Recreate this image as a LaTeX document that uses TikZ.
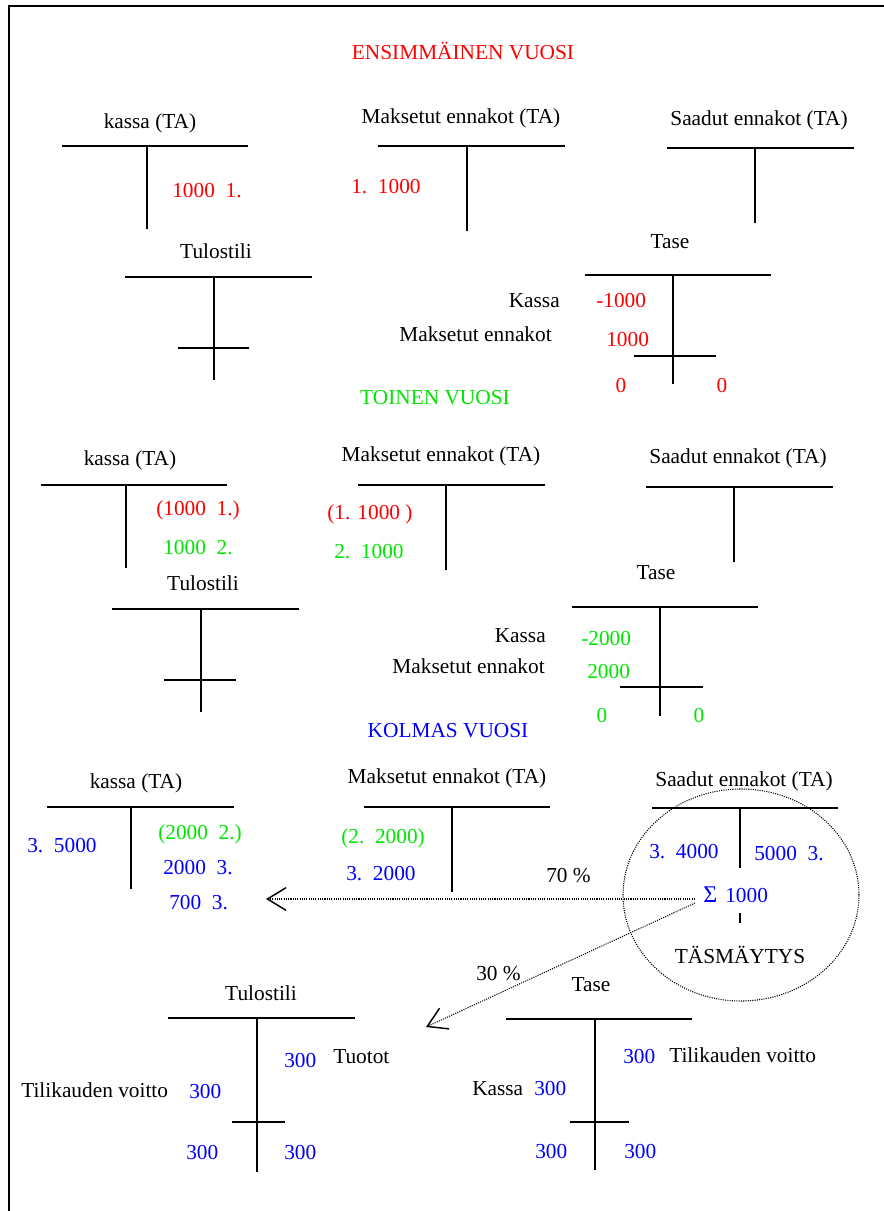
\documentclass[tikz,border=0pt]{standalone}
\usepackage{fontspec}
\setmainfont{Liberation Serif}
\usetikzlibrary{arrows.meta}
\definecolor{yrRed}{RGB}{255,0,0}
\definecolor{yrGreen}{RGB}{0,230,0}
\definecolor{yrBlue}{RGB}{0,0,255}
\begin{document}
\begin{tikzpicture}[x=0.75pt,y=-0.75pt,
  txt/.style={font=\fontsize{16}{19}\selectfont, inner sep=0pt},
  lc/.style={txt, anchor=base},
  lw/.style={txt, anchor=base west},
  le/.style={txt, anchor=base east},
  hbar/.style={line width=1.5pt},
  vbar/.style={line width=1.1pt},
  dotline/.style={line width=0.8pt, dash pattern=on 0.8pt off 0.9pt},
  barb/.style={-{Straight Barb[length=14pt,width=17pt,line width=1.1pt]}}
]
\useasboundingbox (0,0) rectangle (884,1211);
% page frame (top and left edge)
\draw[line width=1.5pt] (9,1211) -- (9,6) -- (884,6);

% ---------------- first year ----------------
\node[lc,yrRed] (title1) at (463,59) {ENSIMMÄINEN VUOSI};
\node[lc] (kassa1) at (150,128) {kassa (TA)};
\node[lc] (maks1) at (461,123) {Maksetut ennakot (TA)};
\node[lc] (saad1) at (759,125) {Saadut ennakot (TA)};
\draw[hbar] (62,146) -- (248,146);  \draw[vbar] (147,146) -- (147,229);
\draw[hbar] (378,146) -- (565,146); \draw[vbar] (467,146) -- (467,231);
\draw[hbar] (667,148) -- (854,148); \draw[vbar] (755,148) -- (755,223);
\node[lw,yrRed] (kassa1cr) at (172,197) {1000\enspace 1.};
\node[lw,yrRed] (maks1dr) at (351,193) {1.\enspace 1000};

\node[lc] (tulos1) at (216,258) {Tulostili};
\draw[hbar] (125,277) -- (312,277); \draw[vbar] (214,277) -- (214,380);
\draw[hbar] (178,348) -- (249,348);

\node[lc] (tase1) at (670,248) {Tase};
\draw[hbar] (585,275) -- (771,275); \draw[vbar] (673,275) -- (673,384);
\draw[hbar] (634,356) -- (716,356);
\node[le] (tase1k) at (560,307) {Kassa};
\node[lw,yrRed] (tase1kv) at (596,307) {-1000};
\node[le] (tase1m) at (552,341) {Maksetut ennakot};
\node[lw,yrRed] (tase1mv) at (606,346) {1000};
\node[lc,yrRed] (tase1l) at (621,392) {0};
\node[lc,yrRed] (tase1r) at (722,392) {0};

% ---------------- second year ----------------
\node[lc,yrGreen] (title2) at (435,404) {TOINEN VUOSI};
\node[lc] (kassa2) at (130,465) {kassa (TA)};
\node[lc] (maks2) at (441,461) {Maksetut ennakot (TA)};
\node[lc] (saad2) at (738,463) {Saadut ennakot (TA)};
\draw[hbar] (41,485) -- (227,485);  \draw[vbar] (126,485) -- (126,568);
\draw[hbar] (358,485) -- (545,485); \draw[vbar] (446,485) -- (446,570);
\draw[hbar] (646,487) -- (833,487); \draw[vbar] (734,487) -- (734,562);
\node[lw,yrRed] (kassa2a) at (156,515) {(1000\enspace 1.)};
\node[lw,yrGreen] (kassa2b) at (163,554) {1000\enspace 2.};
\node[lw,yrRed] (maks2a) at (327,519) {(1. 1000 )};
\node[lw,yrGreen] (maks2b) at (334,558) {2.\enspace 1000};

\node[lc] (tulos2) at (203,590) {Tulostili};
\draw[hbar] (112,609) -- (299,609); \draw[vbar] (201,609) -- (201,712);
\draw[hbar] (164,680) -- (236,680);

\node[lc] (tase2) at (656,579) {Tase};
\draw[hbar] (572,607) -- (758,607); \draw[vbar] (660,607) -- (660,716);
\draw[hbar] (620,687) -- (703,687);
\node[le] (tase2k) at (546,642) {Kassa};
\node[lw,yrGreen] (tase2kv) at (581,645) {-2000};
\node[le] (tase2m) at (545,673) {Maksetut ennakot};
\node[lw,yrGreen] (tase2mv) at (587,678) {2000};
\node[lc,yrGreen] (tase2l) at (602,722) {0};
\node[lc,yrGreen] (tase2r) at (699,722) {0};

% ---------------- third year ----------------
\node[lc,yrBlue] (title3) at (448,737) {KOLMAS VUOSI};
\node[lc] (kassa3) at (136,788) {kassa (TA)};
\node[lc] (maks3) at (447,783) {Maksetut ennakot (TA)};
\node[lc] (saad3) at (744,786) {Saadut ennakot (TA)};
\draw[hbar] (47,807) -- (234,807);  \draw[vbar] (131,807) -- (131,889);
\draw[hbar] (364,807) -- (550,807); \draw[vbar] (452,807) -- (452,892);
\draw[hbar] (652,808) -- (838,808); \draw[vbar] (740,808) -- (740,868);
\node[lw,yrBlue] (kassa3dr) at (27,852) {3.\enspace 5000};
\node[lw,yrGreen] (kassa3a) at (158,839) {(2000\enspace 2.)};
\node[lw,yrBlue] (kassa3b) at (163,874) {2000\enspace 3.};
\node[lw,yrBlue] (kassa3c) at (169,909) {700\enspace 3.};
\node[lw,yrGreen] (maks3a) at (341,843) {(2.\enspace 2000)};
\node[lw,yrBlue] (maks3b) at (346,880) {3.\enspace 2000};
\node[lw] (pct70) at (546,882) {70 \%};
\node[lw,yrBlue] (saad3dr) at (649,858) {3.\enspace 4000};
\node[lw,yrBlue] (saad3cr) at (754,860) {5000\enspace 3.};
\node[txt,anchor=base west,yrBlue,font=\fontsize{18}{20}\selectfont] (sigma) at (703,902) {Σ};
\node[lw,yrBlue] (sumval) at (725,902) {1000};
\draw[vbar] (740,913) -- (740,923);
\node[lc] (tasm) at (740,963) {TÄSMÄYTYS};
\draw[dotline] (741,895) ellipse [x radius=88.5pt, y radius=79.5pt];

% split of the balance: 70 % to cash, 30 % to income
\coordinate (tipKassa) at (266,899);
\coordinate (tipTulos) at (426,1027);
\draw[dotline,barb] ([shift={(-8,-3)}]sigma.base west) -- (tipKassa);
\draw[dotline,barb] ([shift={(-8,1)}]sigma.base west) -- (tipTulos);
\node[lw] (pct30) at (476,980) {30 \%};

\node[lc] (tulos3) at (261,1000) {Tulostili};
\draw[hbar] (168,1018) -- (355,1018); \draw[vbar] (257,1018) -- (257,1172);
\draw[hbar] (232,1122) -- (285,1122);
\node[lw,yrBlue] (tulos3cr) at (284,1067) {300};
\node[lw] (tuotot) at (333,1063) {Tuotot};
\node[lw] (tulos3dl) at (21,1097) {Tilikauden voitto};
\node[lw,yrBlue] (tulos3dr) at (189,1098) {300};
\node[lw,yrBlue] (tulos3sl) at (186,1159) {300};
\node[lw,yrBlue] (tulos3sr) at (284,1159) {300};

\node[lc] (tase3) at (591,991) {Tase};
\draw[hbar] (506,1019) -- (692,1019); \draw[vbar] (595,1019) -- (595,1170);
\draw[hbar] (570,1122) -- (629,1122);
\node[lw,yrBlue] (tase3cr) at (623,1063) {300};
\node[lw] (tase3cl) at (669,1062) {Tilikauden voitto};
\node[lw] (tase3dl) at (472,1095) {Kassa};
\node[lw,yrBlue] (tase3dr) at (534,1095) {300};
\node[lw,yrBlue] (tase3sl) at (535,1158) {300};
\node[lw,yrBlue] (tase3sr) at (624,1158) {300};
\end{tikzpicture}
\end{document}
